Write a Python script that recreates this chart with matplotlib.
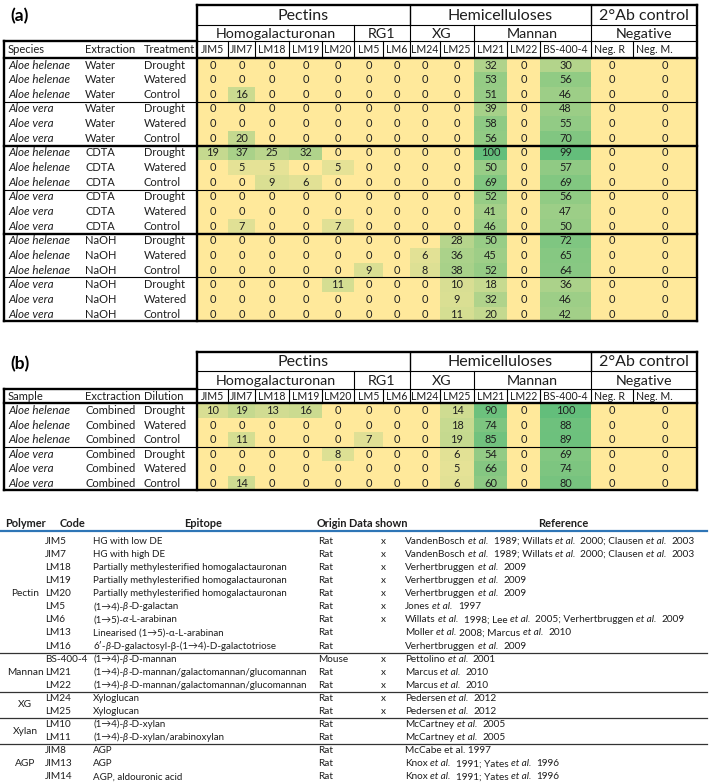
import matplotlib
matplotlib.use("Agg")
import matplotlib.pyplot as plt
from matplotlib.patches import Rectangle
from matplotlib.colors import LinearSegmentedColormap

FONT = ["Lato", "DejaVu Sans"]
plt.rcParams["font.family"] = FONT

# ---- heat map tables -------------------------------------------------------
antibodies = ["JIM5", "JIM7", "LM18", "LM19", "LM20", "LM5", "LM6", "LM24", "LM25",
              "LM21", "LM22", "BS-400-4", "Neg. R", "Neg. M."]
top_groups = ["Pectins", "Hemicelluloses", "2°Ab control"]
top_spans = [7, 5, 2]
sub_groups = ["Homogalacturonan", "RG1", "XG", "Mannan", "Negative"]
sub_spans = [5, 2, 2, 3, 2]

heads_a = ["Species", "Extraction", "Treatment"]
species_a = (["Aloe helenae"] * 3 + ["Aloe vera"] * 3) * 3
extraction_a = ["Water"] * 6 + ["CDTA"] * 6 + ["NaOH"] * 6
treatment_a = ["Drought", "Watered", "Control"] * 6
values_a = [
    [0, 0, 0, 0, 0, 0, 0, 0, 0, 32, 0, 30, 0, 0],
    [0, 0, 0, 0, 0, 0, 0, 0, 0, 53, 0, 56, 0, 0],
    [0, 16, 0, 0, 0, 0, 0, 0, 0, 51, 0, 46, 0, 0],
    [0, 0, 0, 0, 0, 0, 0, 0, 0, 39, 0, 48, 0, 0],
    [0, 0, 0, 0, 0, 0, 0, 0, 0, 58, 0, 55, 0, 0],
    [0, 20, 0, 0, 0, 0, 0, 0, 0, 56, 0, 70, 0, 0],
    [19, 37, 25, 32, 0, 0, 0, 0, 0, 100, 0, 99, 0, 0],
    [0, 5, 5, 0, 5, 0, 0, 0, 0, 50, 0, 57, 0, 0],
    [0, 0, 9, 6, 0, 0, 0, 0, 0, 69, 0, 69, 0, 0],
    [0, 0, 0, 0, 0, 0, 0, 0, 0, 52, 0, 56, 0, 0],
    [0, 0, 0, 0, 0, 0, 0, 0, 0, 41, 0, 47, 0, 0],
    [0, 7, 0, 0, 7, 0, 0, 0, 0, 46, 0, 50, 0, 0],
    [0, 0, 0, 0, 0, 0, 0, 0, 28, 50, 0, 72, 0, 0],
    [0, 0, 0, 0, 0, 0, 0, 6, 36, 45, 0, 65, 0, 0],
    [0, 0, 0, 0, 0, 9, 0, 8, 38, 52, 0, 64, 0, 0],
    [0, 0, 0, 0, 11, 0, 0, 0, 10, 18, 0, 36, 0, 0],
    [0, 0, 0, 0, 0, 0, 0, 0, 9, 32, 0, 46, 0, 0],
    [0, 0, 0, 0, 0, 0, 0, 0, 11, 20, 0, 42, 0, 0],
]

heads_b = ["Sample", "Exctraction", "Dilution"]
species_b = ["Aloe helenae"] * 3 + ["Aloe vera"] * 3
extraction_b = ["Combined"] * 6
treatment_b = ["Drought", "Watered", "Control"] * 2
values_b = [
    [10, 19, 13, 16, 0, 0, 0, 0, 14, 90, 0, 100, 0, 0],
    [0, 0, 0, 0, 0, 0, 0, 0, 18, 74, 0, 88, 0, 0],
    [0, 11, 0, 0, 0, 7, 0, 0, 19, 85, 0, 89, 0, 0],
    [0, 0, 0, 0, 8, 0, 0, 0, 6, 54, 0, 69, 0, 0],
    [0, 0, 0, 0, 0, 0, 0, 0, 5, 66, 0, 74, 0, 0],
    [0, 14, 0, 0, 0, 0, 0, 0, 6, 60, 0, 80, 0, 0],
]

# ---- antibody reference table ---------------------------------------------
polymers = ["Pectin", "Mannan", "XG", "Xylan", "AGP"]
polymer_sizes = [9, 3, 2, 2, 3]
codes = ["JIM5", "JIM7", "LM18", "LM19", "LM20", "LM5", "LM6", "LM13", "LM16",
         "BS-400-4", "LM21", "LM22", "LM24", "LM25", "LM10", "LM11",
         "JIM8", "JIM13", "JIM14"]
epitopes = [
    "HG with low DE",
    "HG with high DE",
    "Partially methylesterified homogalactauronan",
    "Partially methylesterified homogalactauronan",
    "Partially methylesterified homogalactauronan",
    "(1→4)-_β_-D-galactan",
    "(1→5)-_α_-L-arabinan",
    "Linearised (1→5)-α-L-arabinan",
    "6′-_β_-D-galactosyl-β-(1→4)-D-galactotriose",
    "(1→4)-_β_-D-mannan",
    "(1→4)-_β_-D-mannan/galactomannan/glucomannan",
    "(1→4)-_β_-D-mannan/galactomannan/glucomannan",
    "Xyloglucan",
    "Xyloglucan",
    "(1→4)-_β_-D-xylan",
    "(1→4)-_β_-D-xylan/arabinoxylan",
    "AGP",
    "AGP",
    "AGP, aldouronic acid",
]
origins = ["Rat"] * 9 + ["Mouse"] + ["Rat"] * 9
shown = [True] * 7 + [False] * 2 + [True] * 5 + [False] * 5
references = [
    "VandenBosch _et al._  1989; Willats _et al._  2000; Clausen _et al._  2003",
    "VandenBosch _et al._  1989; Willats _et al._  2000; Clausen _et al._  2003",
    "Verhertbruggen _et al._  2009",
    "Verhertbruggen _et al._  2009",
    "Verhertbruggen _et al._  2009",
    "Jones _et al._  1997",
    "Willats _et al._  1998; Lee _et al._  2005; Verhertbruggen _et al._  2009",
    "Moller _et al._ 2008; Marcus _et al._  2010",
    "Verhertbruggen _et al._  2009",
    "Pettolino _et al._  2001",
    "Marcus _et al._  2010",
    "Marcus _et al._  2010",
    "Pedersen _et al._  2012",
    "Pedersen _et al._  2012",
    "McCartney _et al._  2005",
    "McCartney _et al._  2005",
    "McCabe et al. 1997",
    "Knox _et al._  1991; Yates _et al._  1996",
    "Knox _et al._  1991; Yates _et al._  1996",
]

# layout (pixels)
COLS = [197, 228, 255, 289, 322, 354, 383, 410, 440, 474, 507, 540, 591, 633, 697]
LEFT = 4
LEFT_TXT = [8, 85, 144]
THIN, THICK = 0.8, 1.7
TXT = "#1e1e1e"

cmap = LinearSegmentedColormap.from_list("yg", ["#FFE99B", "#63BE7B"])

fig = plt.figure(figsize=(7.09, 7.84), dpi=100)
ax = fig.add_axes([0, 0, 1, 1])
ax.set_xlim(0, 709)
ax.set_ylim(784, 0)
ax.axis("off")
r = fig.canvas.get_renderer()


def hline(y, x0, x1, lw, c="black"):
    ax.plot([x0, x1], [y, y], color=c, lw=lw, solid_capstyle="projecting")


def vline(x, y0, y1, lw, c="black"):
    ax.plot([x, x], [y0, y1], color=c, lw=lw, solid_capstyle="projecting")


def heat_table(label, y0, hs, rh, heads, sp, ex, tr, vals):
    yh2 = y0 + hs[0]
    yh3 = yh2 + hs[1]
    yd = yh3 + hs[2]
    yb = yd + len(vals) * rh
    ax.text(10, y0 + 12, label, fontsize=12.5, fontweight="bold", va="center")

    for i, row in enumerate(vals):
        yc = yd + (i + 0.5) * rh
        for j, v in enumerate(row):
            ax.add_patch(Rectangle((COLS[j], yd + i * rh), COLS[j + 1] - COLS[j], rh,
                                   fc=cmap((v / 100) ** 0.6), ec="none"))
            ax.text((COLS[j] + COLS[j + 1]) / 2, yc, str(v), ha="center", va="center",
                    fontsize=7.9, color=TXT)
        ax.text(LEFT_TXT[0], yc, sp[i], fontsize=8.4, style="italic", va="center", color=TXT)
        ax.text(LEFT_TXT[1], yc, ex[i], fontsize=8.0, va="center", color=TXT)
        ax.text(LEFT_TXT[2], yc, tr[i], fontsize=8.0, va="center", color=TXT)

    for k, h in enumerate(heads):
        ax.text(LEFT_TXT[k], (yh3 + yd) / 2, h, fontsize=8.0, va="center", color=TXT)
    for j, name in enumerate(antibodies):
        if name.startswith("Neg"):
            ax.text(COLS[j] + 3, (yh3 + yd) / 2, name, fontsize=7.6, va="center", color=TXT)
        else:
            ax.text((COLS[j] + COLS[j + 1]) / 2, (yh3 + yd) / 2, name, fontsize=7.6,
                    ha="center", va="center", color=TXT)

    c = 0
    for name, n in zip(top_groups, top_spans):
        ax.text((COLS[c] + COLS[c + n]) / 2, (y0 + yh2) / 2 + 1, name, fontsize=11.5,
                ha="center", va="center", color=TXT)
        c += n
        if c < len(antibodies):
            vline(COLS[c], y0, yh2, 1.0)
    c = 0
    for name, n in zip(sub_groups, sub_spans):
        ax.text((COLS[c] + COLS[c + n]) / 2, (yh2 + yh3) / 2 + 1, name, fontsize=10.3,
                ha="center", va="center", color=TXT)
        c += n
        if c < len(antibodies):
            vline(COLS[c], yh2, yh3, THIN)
    for x in COLS[1:-1]:
        vline(x, yh3, yd, THIN)

    hline(y0, COLS[0], COLS[-1], THICK)
    hline(yh2, COLS[0], COLS[-1], THIN)
    hline(yh3, COLS[0], COLS[-1], THIN)
    hline(yh3, LEFT, COLS[0], THICK)
    hline(yd, LEFT, COLS[-1], THICK)
    hline(yb, LEFT, COLS[-1], THICK)
    vline(LEFT, yh3, yb, THICK)
    vline(COLS[0], y0, yb, THICK)
    vline(COLS[-1], y0, yb, THICK)
    for i in range(3, len(vals), 3):
        hline(yd + i * rh, LEFT, COLS[-1], THICK if i % 6 == 0 else THIN)


heat_table("(a)", 4.5, [20.5, 15.7, 17.0], 14.65, heads_a,
           species_a, extraction_a, treatment_a, values_a)
heat_table("(b)", 352, [18.7, 18.6, 14.1], 14.5, heads_b,
           species_b, extraction_b, treatment_b, values_b)


# ---- bottom table ------------------------------------------------------------
def text_w(s, size):
    t = ax.text(100, 100, s, fontsize=size)
    w = t.get_window_extent(r).width
    t.remove()
    return w


def rich(x, y, s, size):
    sp_w = text_w("a a", size) - text_w("aa", size)
    for k, p in enumerate(s.split("_")):
        if not p:
            continue
        lead = len(p) - len(p.lstrip(" "))
        trail = len(p) - len(p.rstrip(" "))
        x += lead * sp_w
        core = p.strip(" ")
        if core:
            t = ax.text(x, y, core, fontsize=size, va="center", color=TXT,
                        style="italic" if k % 2 else "normal")
            x += t.get_window_extent(r).width
        x += trail * sp_w


yhead = 523.5
for txt, x, ha in [("Polymer", 5, "left"), ("Code", 60, "left"), ("Epitope", 203, "center"),
                   ("Origin", 317, "left"), ("Data shown", 349, "left"),
                   ("Reference", 563, "center")]:
    ax.text(x, yhead, txt, fontsize=7.9, fontweight="bold", ha=ha, va="center", color=TXT)
hline(530.8, 0, 707, 1.6, "#2E75B6")

row0, step = 541.5, 13.07
for i, code in enumerate(codes):
    y = row0 + i * step
    ax.text(45, y, code, fontsize=7.2, va="center", color=TXT)
    rich(93, y, epitopes[i], 7.0)
    ax.text(318, y, origins[i], fontsize=7.2, va="center", color=TXT)
    if shown[i]:
        ax.text(383, y, "x", fontsize=7.2, ha="center", va="center", color=TXT)
    rich(405, y, references[i], 7.2)

start = 0
for name, n in zip(polymers, polymer_sizes):
    ax.text(25, row0 + (start + (n - 1) / 2) * step, name, fontsize=7.3, ha="center",
            va="center", color=TXT)
    start += n
    if start < len(codes):
        hline(row0 + (start - 0.5) * step, 0, 707, 0.9, "#333333")

fig.savefig("out.png", dpi=100)
